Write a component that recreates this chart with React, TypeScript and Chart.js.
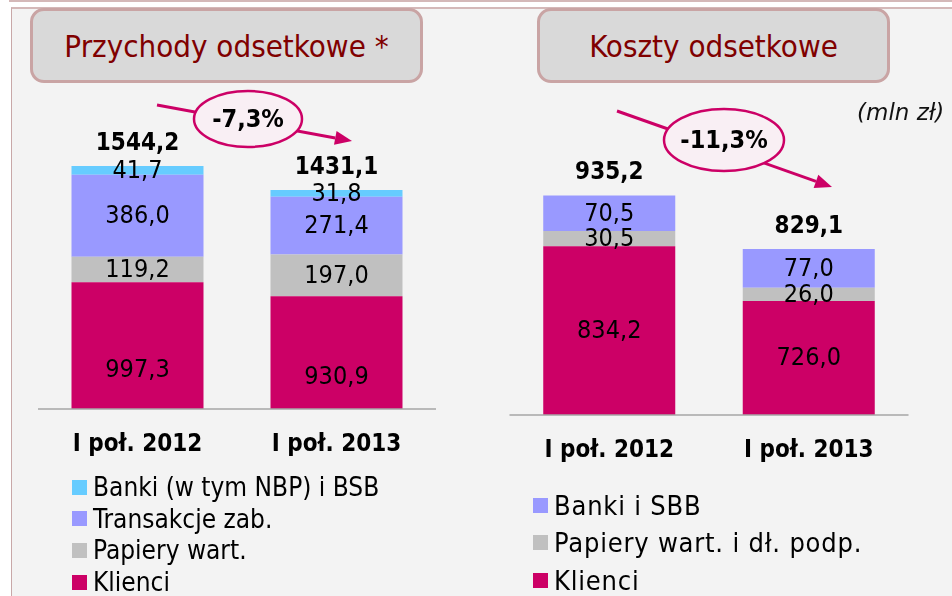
import React, { useEffect, useRef } from "react";
import { Chart, registerables } from "chart.js";

Chart.register(...registerables);

const FONT = '"DejaVu Sans Condensed", "DejaVu Sans", sans-serif';
const FONT_WIDE = '"DejaVu Sans", sans-serif';

const categories = ["I poł. 2012", "I poł. 2013"];

// Przychody odsetkowe (mln zł)
const incomeKlienci = [997.3, 930.9];
const incomePapiery = [119.2, 197.0];
const incomeTransakcje = [386.0, 271.4];
const incomeBanki = [41.7, 31.8];
const incomeTotals = [1544.2, 1431.1];
const incomeChange = "-7,3%";
const incomeTitle = "Przychody odsetkowe *";

// Koszty odsetkowe (mln zł)
const costKlienci = [834.2, 726.0];
const costPapiery = [30.5, 26.0];
const costBanki = [70.5, 77.0];
const costTotals = [935.2, 829.1];
const costChange = "-11,3%";
const costTitle = "Koszty odsetkowe";

const unitLabel = "(mln zł)";

const PINK = "#cc0066";
const GRAY = "#c0c0c0";
const PURPLE = "#9999ff";
const BLUE = "#66ccff";

const incomeSeries = [
  { label: "Klienci", data: incomeKlienci, color: PINK },
  { label: "Papiery wart.", data: incomePapiery, color: GRAY },
  { label: "Transakcje zab.", data: incomeTransakcje, color: PURPLE },
  { label: "Banki (w tym NBP) i BSB", data: incomeBanki, color: BLUE },
];

const costSeries = [
  { label: "Klienci", data: costKlienci, color: PINK },
  { label: "Papiery wart. i dł. podp.", data: costPapiery, color: GRAY },
  { label: "Banki i SBB", data: costBanki, color: PURPLE },
];

const fmt = (v: number) => v.toFixed(1).replace(".", ",");

const stackLabelPlugin = {
  id: "stackLabels",
  afterDatasetsDraw(chart: any, _args: any, opts: any) {
    const { ctx, chartArea } = chart;
    ctx.save();
    ctx.strokeStyle = "#a6a6a6";
    ctx.lineWidth = 1.5;
    ctx.beginPath();
    ctx.moveTo(chartArea.left, chartArea.bottom);
    ctx.lineTo(chartArea.right, chartArea.bottom);
    ctx.stroke();

    ctx.textAlign = "center";
    ctx.fillStyle = "#000";
    chart.data.datasets.forEach((ds: any, i: number) => {
      const meta = chart.getDatasetMeta(i);
      meta.data.forEach((el: any, j: number) => {
        const top = el.y;
        const bottom = Math.min(el.base, chartArea.bottom);
        let y = (top + bottom) / 2;
        if (i === 0) y += opts.firstShift || 0;
        ctx.font = `normal 25px ${FONT}`;
        ctx.textBaseline = "middle";
        ctx.fillText(fmt(ds.data[j]), el.x, y + 1);
      });
    });

    const lastMeta = chart.getDatasetMeta(chart.data.datasets.length - 1);
    ctx.font = `bold 24px ${FONT}`;
    ctx.textBaseline = "alphabetic";
    lastMeta.data.forEach((el: any, j: number) => {
      ctx.fillText(fmt(opts.totals[j]), el.x, el.y - 16);
    });

    ctx.font = `bold 24px ${FONT}`;
    chart.data.labels.forEach((lab: string, j: number) => {
      const x = chart.scales.x.getPixelForValue(j);
      ctx.fillText(lab, x, chartArea.bottom + 42);
    });
    ctx.restore();
  },
};

type Series = { label: string; data: number[]; color: string };

function StackChart(props: {
  series: Series[];
  totals: number[];
  min: number;
  max: number;
  padding: { left: number; right: number; top: number; bottom: number };
  catPct: number;
  firstShift: number;
  left: number;
}) {
  const ref = useRef<HTMLCanvasElement>(null);
  useEffect(() => {
    const chart = new Chart(ref.current as HTMLCanvasElement, {
      type: "bar",
      data: {
        labels: categories,
        datasets: props.series.map((s) => ({
          label: s.label,
          data: s.data,
          backgroundColor: s.color,
          borderWidth: 0,
          clip: 0,
          barPercentage: 1,
          categoryPercentage: props.catPct,
        })),
      },
      options: {
        responsive: false,
        animation: false,
        layout: { padding: props.padding },
        plugins: {
          legend: { display: false },
          tooltip: { enabled: false },
          // @ts-ignore
          stackLabels: { totals: props.totals, firstShift: props.firstShift },
        },
        scales: {
          x: { display: false, stacked: true },
          y: { display: false, stacked: true, min: props.min, max: props.max },
        },
      },
      plugins: [stackLabelPlugin as any],
    });
    return () => chart.destroy();
  }, []);
  return (
    <canvas
      ref={ref}
      width={476}
      height={470}
      style={{ position: "absolute", left: props.left, top: 0, width: 476, height: 470 }}
    />
  );
}

function TitleBox(props: { text: string; left: number; width: number }) {
  return (
    <div
      style={{
        position: "absolute",
        left: props.left,
        top: 8,
        width: props.width,
        height: 75,
        boxSizing: "border-box",
        background: "#d9d9d9",
        border: "3px solid #c9a4a4",
        borderRadius: 14,
        display: "flex",
        alignItems: "center",
        justifyContent: "center",
        color: "#800000",
        fontSize: 31,
        fontFamily: FONT,
        whiteSpace: "nowrap",
      }}
    >
      {props.text}
    </div>
  );
}

function Legend(props: {
  items: Series[];
  sqLeft: number;
  textLeft: number;
  top: number;
  step: number;
  fontSize: number;
  spacing: number;
}) {
  return (
    <>
      {props.items.map((it, i) => (
        <div
          key={it.label}
          style={{
            position: "absolute",
            left: props.sqLeft,
            top: props.top + i * props.step - 16,
            height: 32,
            display: "flex",
            alignItems: "center",
            fontFamily: FONT,
            fontSize: props.fontSize,
            letterSpacing: props.spacing,
            color: "#000",
            whiteSpace: "nowrap",
          }}
        >
          <span
            style={{
              display: "inline-block",
              width: 15,
              height: 15,
              background: it.color,
              marginRight: props.textLeft - props.sqLeft - 15,
            }}
          />
          <span>{it.label}</span>
        </div>
      ))}
    </>
  );
}

function ChangeBubble(props: {
  text: string;
  x1: number;
  y1: number;
  x2: number;
  y2: number;
  cx: number;
  cy: number;
  rx: number;
  ry: number;
}) {
  const { x1, y1, x2, y2, cx, cy, rx, ry } = props;
  const ang = Math.atan2(y2 - y1, x2 - x1);
  const len = 17;
  const half = 7;
  const bx = x2 - len * Math.cos(ang);
  const by = y2 - len * Math.sin(ang);
  const p1 = `${bx + half * Math.sin(ang)},${by - half * Math.cos(ang)}`;
  const p2 = `${bx - half * Math.sin(ang)},${by + half * Math.cos(ang)}`;
  return (
    <g>
      <line x1={x1} y1={y1} x2={bx} y2={by} stroke={PINK} strokeWidth={3} />
      <polygon points={`${x2},${y2} ${p1} ${p2}`} fill={PINK} />
      <ellipse cx={cx} cy={cy} rx={rx} ry={ry} fill="#f9eff4" stroke={PINK} strokeWidth={2.5} />
      <text
        x={cx}
        y={cy + 1}
        textAnchor="middle"
        dominantBaseline="middle"
        fontFamily={FONT}
        fontWeight="bold"
        fontSize={25}
        fill="#000"
      >
        {props.text}
      </text>
    </g>
  );
}

export default function App() {
  return (
    <div
      style={{
        position: "absolute",
        left: 0,
        top: 0,
        width: 952,
        height: 596,
        background: "#ffffff",
        overflow: "hidden",
        fontFamily: FONT,
      }}
    >
      <div style={{ position: "absolute", left: 9, top: 0, width: 943, height: 2, background: "#d4b8b8" }} />
      <div
        style={{
          position: "absolute",
          left: 11,
          top: 7,
          right: 0,
          bottom: 0,
          background: "#f3f3f3",
          borderTop: "2px solid #d4b8b8",
          borderLeft: "1px solid #c8a8a8",
        }}
      />
      <TitleBox text={incomeTitle} left={30} width={393} />
      <TitleBox text={costTitle} left={537} width={353} />

      <StackChart
        series={incomeSeries}
        totals={incomeTotals}
        min={400}
        max={2000}
        padding={{ left: 38, right: 40, top: 69.2, bottom: 61 }}
        catPct={0.6633}
        firstShift={24}
        left={0}
      />
      <StackChart
        series={costSeries}
        totals={costTotals}
        min={500}
        max={1200}
        padding={{ left: 33.5, right: 43.5, top: 61.8, bottom: 55 }}
        catPct={0.6617}
        firstShift={0}
        left={476}
      />

      <svg width={952} height={596} style={{ position: "absolute", left: 0, top: 0 }}>
        <ChangeBubble text={incomeChange} x1={157} y1={105} x2={352} y2={141} cx={248} cy={119} rx={54} ry={28} />
        <ChangeBubble text={costChange} x1={617} y1={111} x2={832} y2={187} cx={724} cy={140} rx={60} ry={31} />
      </svg>

      <div
        style={{
          position: "absolute",
          left: 857,
          top: 98,
          fontFamily: FONT_WIDE,
          fontStyle: "italic",
          fontSize: 23,
          lineHeight: "28px",
          color: "#111",
          whiteSpace: "nowrap",
        }}
      >
        {unitLabel}
      </div>

      <Legend items={[...incomeSeries].reverse()} sqLeft={72} textLeft={93} top={487} step={31.7} fontSize={26} spacing={0} />
      <Legend items={[...costSeries].reverse()} sqLeft={533} textLeft={554} top={505} step={37.5} fontSize={27} spacing={0.8} />
    </div>
  );
}
